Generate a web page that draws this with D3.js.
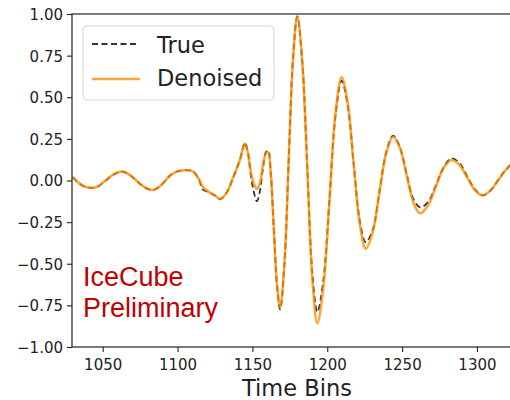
<!DOCTYPE html>
<html>
<head>
<meta charset="utf-8">
<script src="https://cdn.jsdelivr.net/npm/d3@7"></script>
<style>
  body { margin: 0; background: #fff; }
  svg { display: block; font-family: "DejaVu Sans", sans-serif; }
</style>
</head>
<body>
<div id="chart"></div>
<script>
// time bins where the waveform was sampled off the picture
let timeBins = [1030, 1033, 1037, 1041, 1044, 1047, 1052, 1057, 1062, 1066, 1071, 1076, 1080, 1083.5, 1087, 1091, 1095, 1099, 1102, 1106,
  1110, 1114, 1117, 1121, 1125, 1128.5, 1133, 1137, 1141.5, 1143.5, 1145, 1147, 1149, 1151, 1153, 1155, 1157, 1159, 1160.5, 1162.3,
  1164.3, 1166.4, 1168.5, 1171.4, 1174.2, 1177.1, 1180, 1183.3, 1186.7, 1190, 1193.4, 1197.4, 1201.5, 1205.5, 1209.6, 1213.6, 1217.6, 1221.7,
  1225.7, 1230.3, 1234.8, 1239.4, 1244, 1248.5, 1253, 1257.5, 1262, 1267.3, 1272.5, 1277.8, 1283, 1288.3, 1293.5, 1298.8, 1304, 1309,
  1314, 1318, 1323]

let denoised = [0.02, -0.008, -0.033, -0.043, -0.044, -0.035, 0.0, 0.035, 0.053, 0.045, 0.012, -0.028, -0.05, -0.057, -0.043, -0.01, 0.03, 0.052, 0.059, 0.062,
  0.057, 0.012, -0.04, -0.07, -0.09, -0.112, -0.07, 0.015, 0.12, 0.185, 0.222, 0.165, 0.05, -0.02, -0.05, -0.015, 0.09, 0.16, 0.172, 0.04,
  -0.29, -0.62, -0.762, -0.5, 0.11, 0.725, 0.985, 0.714, 0.064, -0.587, -0.858, -0.64, -0.119, 0.403, 0.62, 0.469, 0.105, -0.259,
  -0.41, -0.312, -0.074, 0.164, 0.263, 0.196, 0.033, -0.13, -0.197, -0.15, -0.037, 0.076, 0.123, 0.093, 0.017, -0.059, -0.09, -0.06,
  0.0, 0.05, 0.1]

let trueVals = [0.02, -0.008, -0.033, -0.043, -0.044, -0.035, 0.0, 0.035, 0.053, 0.045, 0.012, -0.028, -0.05, -0.057, -0.043, -0.01, 0.03, 0.052, 0.059, 0.062,
  0.057, 0.012, -0.055, -0.07, -0.09, -0.112, -0.07, 0.015, 0.12, 0.19, 0.228, 0.17, 0.03, -0.07, -0.125, -0.065, 0.07, 0.17, 0.18, 0.04,
  -0.29, -0.63, -0.775, -0.5, 0.11, 0.725, 0.985, 0.714, 0.07, -0.55, -0.79, -0.6, -0.11, 0.39, 0.60, 0.455, 0.105, -0.24,
  -0.37, -0.3, -0.07, 0.17, 0.27, 0.2, 0.04, -0.11, -0.161, -0.13, -0.03, 0.08, 0.133, 0.105, 0.025, -0.055, -0.088, -0.06,
  0.0, 0.05, 0.1]

let xTicks = [1050, 1100, 1150, 1200, 1250, 1300]
let yTicks = [-1, -0.75, -0.5, -0.25, 0, 0.25, 0.5, 0.75, 1]
let legendLabels = ['True', 'Denoised']

var W = 510, H = 400
var margin = { top: 14, left: 72, bottom: 53, right: -2 }
var width = W - margin.left - margin.right
var height = H - margin.top - margin.bottom

var x = d3.scaleLinear()
  .domain([1029.5, 1323.4])
  .range([0, width])

var y = d3.scaleLinear()
  .domain([-1, 1])
  .range([height, 0])

var svg = d3.select('#chart').append('svg')
  .attr('width', W)
  .attr('height', H)

var g = svg.append('g')
  .attr('transform', 'translate(' + margin.left + ',' + margin.top + ')')

var rows = timeBins.map((t, i) => ({ t: t, truth: trueVals[i], den: denoised[i] }))

var clip = svg.append('defs').append('clipPath').attr('id', 'plotClip')
clip.append('rect').attr('width', width).attr('height', height)

var plot = g.append('g').attr('clip-path', 'url(#plotClip)')

var lineTrue = d3.line()
  .x(d => x(d.t))
  .y(d => y(d.truth))
  .curve(d3.curveCatmullRom.alpha(0.5))

var lineDen = d3.line()
  .x(d => x(d.t))
  .y(d => y(d.den))
  .curve(d3.curveCatmullRom.alpha(0.5))

plot.append('path')
  .datum(rows)
  .attr('d', lineTrue)
  .attr('fill', 'none')
  .attr('stroke', '#333')
  .attr('stroke-width', 1.8)
  .attr('stroke-dasharray', '6,3.5')

plot.append('path')
  .datum(rows)
  .attr('d', lineDen)
  .attr('fill', 'none')
  .attr('stroke', 'darkorange')
  .attr('stroke-opacity', 0.78)
  .attr('stroke-width', 2.6)

// axes
var xAxis = d3.axisBottom(x).tickValues(xTicks).tickSize(5).tickPadding(4).tickFormat(d3.format('d'))
var yAxis = d3.axisLeft(y).tickValues(yTicks).tickSize(5).tickPadding(4).tickFormat(d3.format('.2f'))

var gx = g.append('g')
  .attr('transform', 'translate(0,' + height + ')')
  .call(xAxis)
var gy = g.append('g').call(yAxis)

;[gx, gy].forEach(a => {
  a.select('.domain').remove()
  a.selectAll('line').attr('stroke', '#222').attr('stroke-width', 1.1)
  a.selectAll('text').attr('font-size', 15).attr('fill', '#222').attr('font-family', 'DejaVu Sans')
})
gx.selectAll('text').attr('dy', '0.9em')
gy.selectAll('text').attr('dy', '0.36em')

// spines
g.append('rect')
  .attr('width', width)
  .attr('height', height)
  .attr('fill', 'none')
  .attr('stroke', '#222')
  .attr('stroke-width', 1.2)

g.append('text')
  .attr('x', 297 - margin.left)
  .attr('y', 396 - margin.top)
  .attr('text-anchor', 'middle')
  .attr('font-size', 22.5)
  .attr('fill', '#222')
  .text('Time Bins')

// legend
var leg = svg.append('g')
leg.append('rect')
  .attr('x', 83).attr('y', 26)
  .attr('width', 191).attr('height', 74)
  .attr('rx', 4)
  .attr('fill', 'rgba(255,255,255,0.8)')
  .attr('stroke', '#d6d6d6')
  .attr('stroke-width', 1)

leg.append('line')
  .attr('x1', 92).attr('x2', 139).attr('y1', 44).attr('y2', 44)
  .attr('stroke', '#333').attr('stroke-width', 1.8).attr('stroke-dasharray', '6,3.5')
leg.append('line')
  .attr('x1', 92).attr('x2', 140).attr('y1', 79).attr('y2', 79)
  .attr('stroke', 'darkorange').attr('stroke-opacity', 0.78).attr('stroke-width', 2.6)

leg.selectAll('text.lab')
  .data(legendLabels)
  .enter().append('text')
  .attr('class', 'lab')
  .attr('x', 157)
  .attr('y', (d, i) => 53 + i * 33)
  .attr('font-size', 22.5)
  .attr('fill', '#222')
  .text(d => d)

// watermark
var wm = svg.append('text')
  .attr('x', 83)
  .attr('font-family', '"Liberation Sans", Arial, sans-serif')
  .attr('font-size', 27)
  .attr('fill', '#c00000')
wm.append('tspan').attr('x', 83).attr('y', 286).text('IceCube')
wm.append('tspan').attr('x', 83).attr('y', 317).text('Preliminary')
</script>
</body>
</html>
